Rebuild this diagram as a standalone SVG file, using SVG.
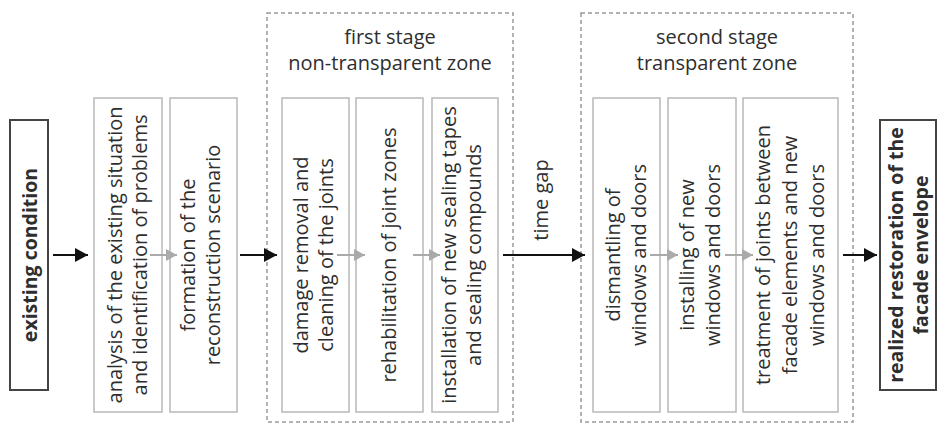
<svg xmlns="http://www.w3.org/2000/svg" width="939" height="424" viewBox="0 0 939 424">
<defs>
<style>
text{font-family:"Open Sans","Liberation Sans",sans-serif;font-size:20px;fill:#2e2e2e;text-anchor:middle}
.b{font-weight:bold;font-size:19.5px}
.box{fill:#fff;stroke:#b8b8b8;stroke-width:1.5}
.end{fill:#fff;stroke:#444;stroke-width:2}
.zone{fill:none;stroke:#9a9a9a;stroke-width:1.5;stroke-dasharray:4 3}
.ka{stroke:#111;stroke-width:2;fill:none;marker-end:url(#ah)}
.ga{stroke:#aaa;stroke-width:2;fill:none;marker-end:url(#gh)}
</style>
<marker id="ah" markerUnits="userSpaceOnUse" markerWidth="14" markerHeight="14" refX="13" refY="7" orient="auto"><path d="M0,0 L13,7 L0,14 z" fill="#111"/></marker>
<marker id="gh" markerUnits="userSpaceOnUse" markerWidth="12" markerHeight="14" refX="11" refY="7" orient="auto"><path d="M0,1 L11,7 L0,13 z" fill="#aaa"/></marker>
</defs>
<rect width="939" height="424" fill="#fff"/>
<g id="zone1"><rect class="zone" x="267" y="13" width="246" height="409"/>
<text x="390" y="44">first stage</text><text x="390" y="70">non-transparent zone</text></g>
<g id="zone2"><rect class="zone" x="581" y="13" width="272" height="409"/>
<text x="717" y="44">second stage</text><text x="717" y="70">transparent zone</text></g>
<g id="existing"><rect class="end" x="10" y="120" width="38" height="270"/>
<text class="b" transform="translate(37,255) rotate(-90)">existing condition</text></g>
<g id="analysis"><rect class="box" x="94" y="98" width="68" height="314"/>
<text transform="translate(122,255) rotate(-90)">analysis of the existing situation</text>
<text transform="translate(147,255) rotate(-90)">and identification of problems</text></g>
<g id="formation"><rect class="box" x="170" y="98" width="67" height="314"/>
<text transform="translate(195,255) rotate(-90)">formation of the</text>
<text transform="translate(220,255) rotate(-90)">reconstruction scenario</text></g>
<g id="damage"><rect class="box" x="282" y="98" width="67" height="314"/>
<text transform="translate(308,255) rotate(-90)">damage removal and</text>
<text transform="translate(333,255) rotate(-90)">cleaning of the joints</text></g>
<g id="rehab"><rect class="box" x="356" y="98" width="67" height="314"/>
<text transform="translate(396,255) rotate(-90)">rehabilitation of joint zones</text></g>
<g id="install-tapes"><rect class="box" x="432" y="98" width="66" height="314"/>
<text transform="translate(456,255) rotate(-90)">installation of new sealing tapes</text>
<text transform="translate(481,255) rotate(-90)">and sealing compounds</text></g>
<g id="timegap"><text transform="translate(548,200) rotate(-90)">time gap</text></g>
<g id="dismantling"><rect class="box" x="593" y="98" width="67" height="314"/>
<text transform="translate(620,255) rotate(-90)">dismantling of</text>
<text transform="translate(646,255) rotate(-90)">windows and doors</text></g>
<g id="installing"><rect class="box" x="668" y="98" width="68" height="314"/>
<text transform="translate(694,255) rotate(-90)">installing of new</text>
<text transform="translate(720,255) rotate(-90)">windows and doors</text></g>
<g id="treatment"><rect class="box" x="743" y="98" width="95" height="314"/>
<text transform="translate(770,255) rotate(-90)">treatment of joints between</text>
<text transform="translate(797,255) rotate(-90)">facade elements and new</text>
<text transform="translate(824,255) rotate(-90)">windows and doors</text></g>
<g id="realized"><rect class="end" x="880" y="120" width="56" height="270"/>
<text class="b" transform="translate(903,255) rotate(-90)">realized restoration of the</text>
<text class="b" transform="translate(928,255) rotate(-90)">facade envelope</text></g>
<g id="connectors">
<path class="ka" d="M53,255 H88"/>
<path class="ga" d="M150,255 H177"/>
<path class="ka" d="M240,255 H277"/>
<path class="ga" d="M337,255 H365"/>
<path class="ga" d="M413,255 H440"/>
<path class="ka" d="M503,255 H585"/>
<path class="ga" d="M650,255 H678"/>
<path class="ga" d="M725,255 H753"/>
<path class="ka" d="M843,255 H877"/>
</g>
</svg>
